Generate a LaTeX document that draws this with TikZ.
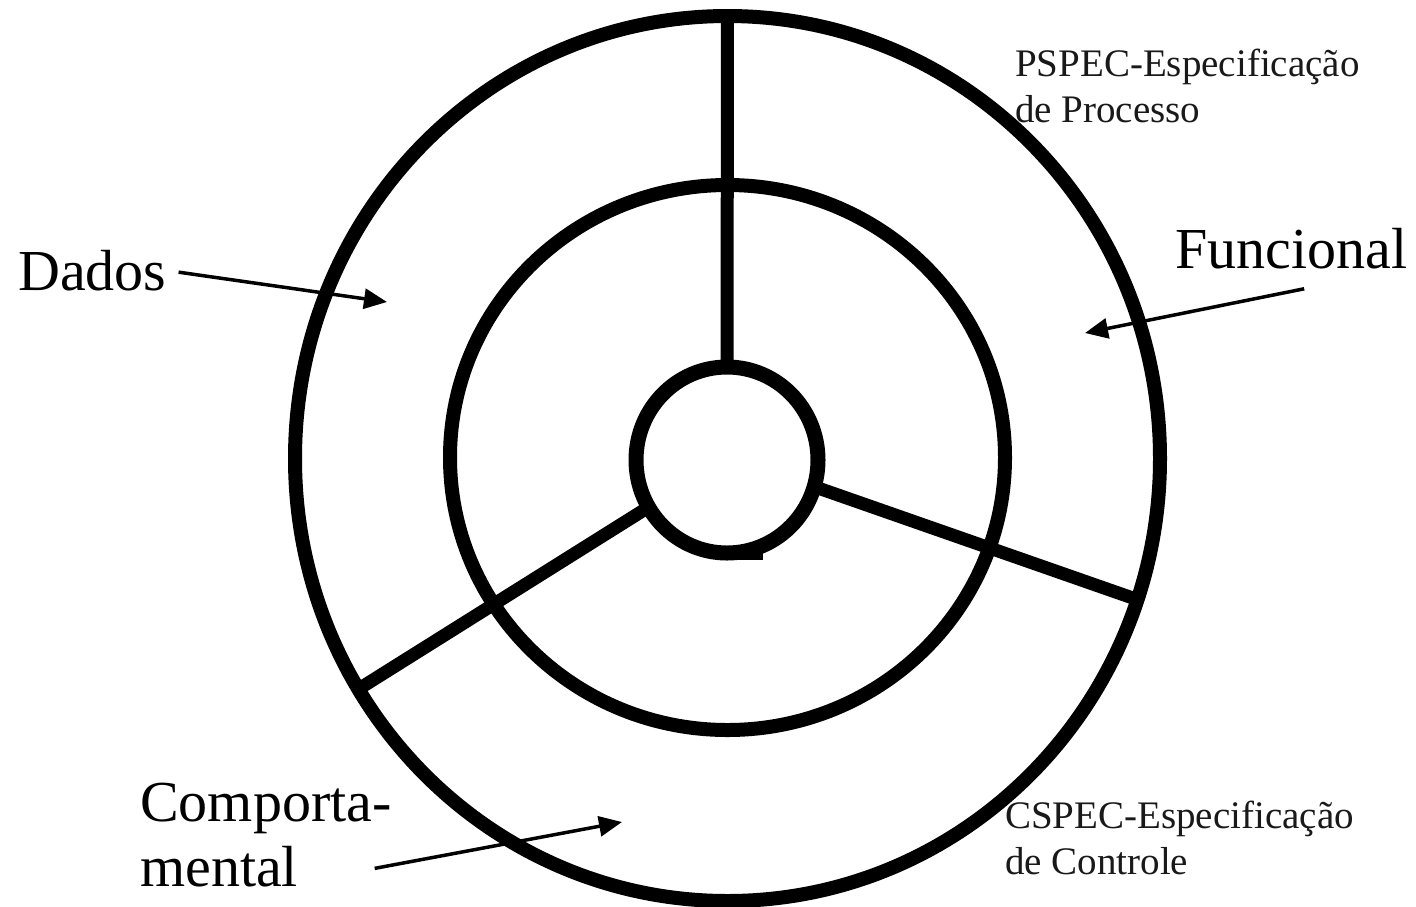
\documentclass[tikz,border=0pt]{standalone}
\usepackage{fontspec}
\setmainfont{Liberation Serif}
\usetikzlibrary{shapes.geometric,arrows.meta}
\begin{document}
\begin{tikzpicture}[x=1pt,y=-1pt,
  ring/.style={draw=black,line width=14pt,ellipse,inner sep=0pt,outer sep=0pt},
  spoke/.style={draw=black,line width=13pt},
  arr/.style={draw=black,line width=3.5pt,-{Triangle[length=23pt,width=20pt]}},
  big/.style={font=\fontsize{58}{65}\selectfont,inner sep=0pt,align=left},
  small/.style={font=\fontsize{39}{46}\selectfont,inner sep=0pt,align=left,text=black!90}]
\useasboundingbox[fill=white] (0,0) rectangle (1416,906);
\node[ring,minimum width=865pt,minimum height=885pt] (outer) at (727.5,458.5) {};
\node[ring,minimum width=555pt,minimum height=545pt] (middle) at (727.5,457.5) {};
\node[ring,minimum width=182pt,minimum height=186pt,line width=15pt] (inner) at (727,460) {};
\draw[spoke] (inner.90) -- (outer.90);
\draw[spoke] (inner.-17) -- (outer.-19.4);
\draw[spoke] (inner.211) -- (outer.212.1);
\draw[line width=10pt] ([xshift=-10pt,yshift=-2pt]inner.south) -- ([xshift=36pt,yshift=-2pt]inner.south);
% labels
\node[big,anchor=base west] (dados) at (18,290) {Dados};
\node[big,anchor=base west] (funcional) at (1175,268) {Funcional};
\node[big,anchor=north west] (comp) at (140,783) {Comporta-\\mental};
\node[small,anchor=north west] (pspec) at (1015,49) {PSPEC-Especificação\\de Processo};
\node[small,anchor=north west] (cspec) at (1005,801) {CSPEC-Especificação\\de Controle};
% arrow tips
\coordinate (dadostip) at (387,302);
\coordinate (funtip) at (1085,333);
\coordinate (comptip) at (622,822);
\draw[arr] ([xshift=12pt,yshift=-2pt]dados.east) -- (dadostip);
\draw[arr] ([xshift=13pt,yshift=-20pt]funcional.south) -- (funtip);
\draw[arr] ([xshift=-17pt,yshift=19pt]comp.south east) -- (comptip);
\end{tikzpicture}
\end{document}
